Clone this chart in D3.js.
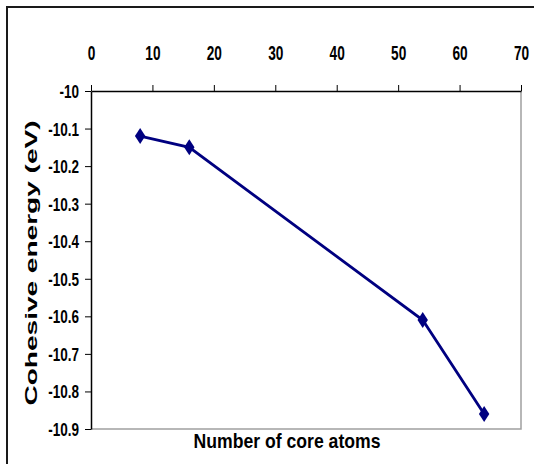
<!DOCTYPE html>
<html>
<head>
<meta charset="utf-8">
<script src="https://cdn.jsdelivr.net/npm/d3@7"></script>
<style>
  html, body { margin: 0; padding: 0; background: #fff; }
  svg { display: block; }
  .lbl { font-family: "Liberation Sans", Arial, sans-serif; font-weight: bold; fill: #000; }
</style>
</head>
<body>
<svg id="chart" width="534" height="464"></svg>
<script>
// Cohesive energy versus number of core atoms
const coreAtoms = [8, 16, 54, 64];
const cohesiveEnergy = [-10.12, -10.15, -10.61, -10.86];
const xTicks = [0, 10, 20, 30, 40, 50, 60, 70];
const yTicks = [-10, -10.1, -10.2, -10.3, -10.4, -10.5, -10.6, -10.7, -10.8, -10.9];
const yTickLabels = ["-10", "-10.1", "-10.2", "-10.3", "-10.4", "-10.5", "-10.6", "-10.7", "-10.8", "-10.9"];
const xTitle = "Number of core atoms";
const yTitle = "Cohesive energy (eV)";

const svg = d3.select("#chart");
const plotLeft = 91, plotRight = 521, plotTop = 91, plotBottom = 429;

const x = d3.scaleLinear().domain([0, 70]).range([plotLeft, plotRight]);
const y = d3.scaleLinear().domain([-10.9, -10]).range([plotBottom, plotTop]);

// squeeze a text element horizontally, keeping its anchor
function condense(sel, k) {
  sel.each(function () {
    const len = this.getComputedTextLength();
    d3.select(this).attr("textLength", len * k).attr("lengthAdjust", "spacingAndGlyphs");
  });
}

// outer chart frame
svg.append("rect")
  .attr("x", 7).attr("y", 7).attr("width", 540).attr("height", 470)
  .attr("fill", "none").attr("stroke", "#1a1a1a").attr("stroke-width", 2);

// plot area border (right and bottom)
svg.append("path")
  .attr("d", `M${x(70)},${y(-10)}V${y(-10.9)}H${x(0)}`)
  .attr("fill", "none").attr("stroke", "#a0a0a0").attr("stroke-width", 1.5);

// top axis
const xAxis = d3.axisTop(x).tickValues(xTicks).tickFormat(d3.format("d"))
  .tickSize(6).tickSizeOuter(0).tickPadding(25);
const gx = svg.append("g").attr("transform", `translate(0,${y(-10)})`).call(xAxis);
gx.attr("font-family", null).attr("font-size", null);
gx.select(".domain").attr("stroke", "#000").attr("stroke-width", 1.5);
gx.selectAll(".tick line").attr("stroke", "#000").attr("stroke-width", 1);
gx.selectAll(".tick text").attr("class", "lbl").style("font-size", "19.5px").call(condense, 0.7);

// left axis
const yAxis = d3.axisLeft(y).tickValues(yTicks).tickFormat((d, i) => yTickLabels[i])
  .tickSize(6).tickSizeOuter(0).tickPadding(6);
const gy = svg.append("g").attr("transform", `translate(${x(0)},0)`).call(yAxis);
gy.attr("font-family", null).attr("font-size", null);
gy.select(".domain").attr("stroke", "#000").attr("stroke-width", 1.5);
gy.selectAll(".tick line").attr("stroke", "#000").attr("stroke-width", 1);
gy.selectAll(".tick text").attr("class", "lbl").style("font-size", "18px")
  .attr("dy", "0.36em").call(condense, 0.75);

// data line
const pts = coreAtoms.map((v, i) => [v, cohesiveEnergy[i]]);
svg.append("path")
  .datum(pts)
  .attr("d", d3.line().x(d => x(d[0])).y(d => y(d[1])))
  .attr("fill", "none").attr("stroke", "#000080").attr("stroke-width", 2.8);

// diamond markers
const diamond = "M0,-8L5.2,0L0,8L-5.2,0Z";
svg.append("g").selectAll("path").data(pts).join("path")
  .attr("transform", d => `translate(${x(d[0])},${y(d[1])})`)
  .attr("d", diamond).attr("fill", "#000080");

// axis titles
svg.append("text").attr("class", "lbl")
  .attr("x", 287).attr("y", 448).attr("text-anchor", "middle")
  .style("font-size", "21px").text(xTitle)
  .attr("textLength", 187).attr("lengthAdjust", "spacingAndGlyphs");

svg.append("text").attr("class", "lbl")
  .attr("transform", "translate(37,263) rotate(-90)")
  .attr("text-anchor", "middle")
  .attr("textLength", 285).attr("lengthAdjust", "spacingAndGlyphs")
  .style("font-size", "17px")
  .text(yTitle);
</script>
</body>
</html>
